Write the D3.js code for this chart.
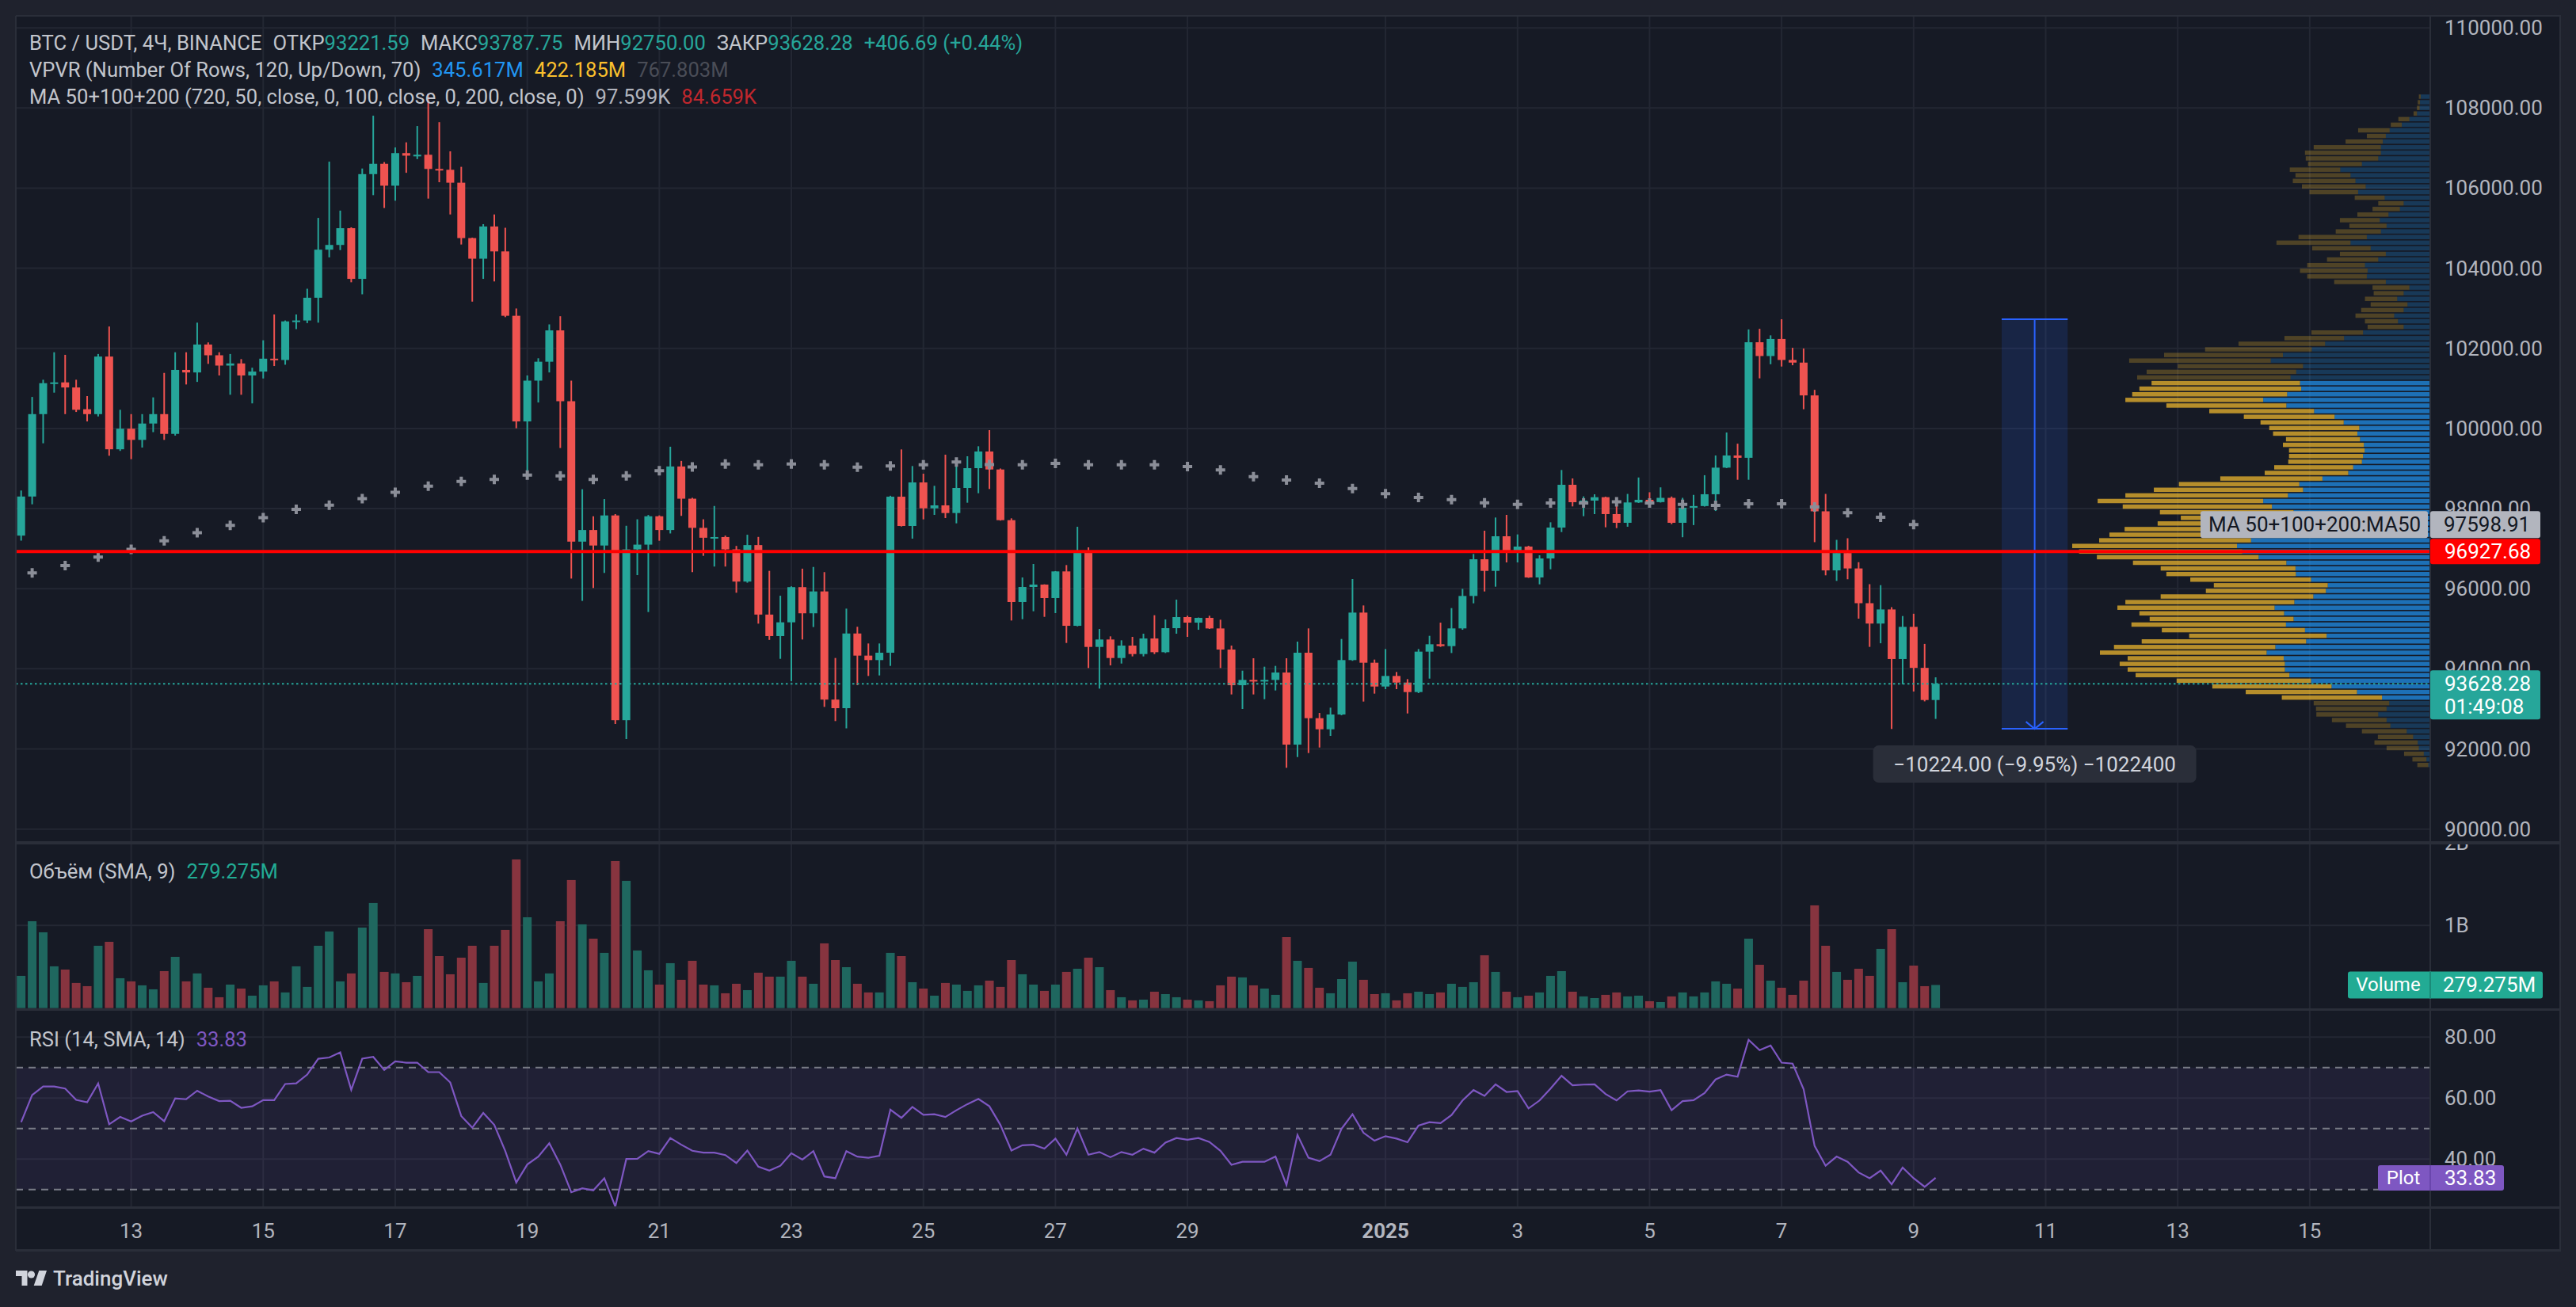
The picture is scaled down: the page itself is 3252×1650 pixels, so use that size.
<!DOCTYPE html>
<html>
<head>
<meta charset="utf-8">
<script src="https://cdn.jsdelivr.net/npm/d3@7"></script>
<style>
  html, body { margin: 0; padding: 0; background: #1f222d; }
  svg { display: block; font-family: Roboto, "Noto Sans", sans-serif; }
</style>
</head>
<body>
<svg id="chart" width="3252" height="1650"></svg>
<script>
// BTC/USDT 4h candles, first bar 11 Dec 2024 08:00 UTC
var startTime = Date.UTC(2024, 11, 11, 8);

var opens = [
  97325, 98301, 100358, 101130, 101150, 101023, 100480, 100358, 101795, 99480,
  99994, 99715, 100123, 100358, 99865, 101462, 101398, 102095, 101827, 101570,
  101623, 101323, 101420, 101742, 101709, 102673, 102695, 103263, 104463, 104581,
  104999, 103734, 106349, 106607, 106060, 106874, 106810, 106832, 106478, 106457,
  106135, 104752, 104238, 105042, 104420, 102813, 100176, 101194, 101666, 102448,
  100680, 97175, 97465, 97078, 97829, 92718, 96982, 97100, 97808, 97465,
  99051, 98247, 97519, 97272, 97290, 96982, 96178, 97089, 95354, 94818,
  95161, 96039, 95386, 95932, 93232, 93018, 94882, 94330, 94218, 94402,
  98297, 97566, 98653, 98007, 98080, 97889, 98515, 99009, 99425, 98976,
  97711, 95668, 96043, 96103, 95767, 96432, 95074, 96920, 94547, 94732,
  94270, 94580, 94369, 94758, 94415, 95015, 95292, 95153, 95272, 95008,
  94481, 93591, 93723, 93690, 93723, 93908, 92108, 94402, 92768, 92491,
  92860, 94218, 95404, 94152, 93558, 93822, 93657, 93420, 94429, 94613,
  94567, 95009, 95819, 96735, 96445, 97309, 96953, 97052, 96281, 96755,
  97526, 98594, 98159, 98200, 98284, 97863, 97645, 98153, 98219, 98162,
  98268, 97645, 98022, 98063, 98358, 99022, 99325, 99268, 102152, 101808,
  102234, 101710, 101644, 100825, 97932, 96457, 96891, 96506, 95638, 95130,
  95482, 94245, 95048, 94024, 93221.59
];
var highs = [
  98451, 100787, 101216, 101902, 101838, 101216, 100809, 101859, 102545, 100466,
  100358, 100358, 100776, 101387, 101902, 101902, 102641, 102148, 101902, 101859,
  101731, 101516, 102201, 102845, 102695, 102845, 103488, 105256, 106660, 105438,
  105020, 106489, 107807, 106649, 107014, 107142, 107550, 108353, 107646, 106917,
  106531, 104763, 105100, 105342, 105010, 102995, 101323, 101752, 102598, 102802,
  101194, 98483, 97808, 98236, 97861, 97572, 97733, 97840, 97830, 99544,
  99190, 98269, 97733, 98065, 97325, 97068, 97347, 97293, 96446, 95825,
  96060, 96500, 96543, 96414, 94271, 95503, 95050, 94633, 94633, 98320,
  99477, 99062, 98871, 98568, 99345, 99260, 99306, 99556, 99958, 99000,
  97757, 96281, 96617, 96110, 96440, 96590, 97546, 97032, 94995, 94811,
  94712, 94798, 94877, 95338, 95233, 95727, 95325, 95280, 95325, 95226,
  94580, 93954, 94264, 94053, 94073, 94264, 94679, 95009, 92899, 93031,
  94745, 96241, 95582, 94231, 94494, 93921, 93743, 94494, 94824, 95153,
  95516, 95997, 96867, 97447, 97777, 97843, 97355, 97071, 96834, 97658,
  98963, 98752, 98304, 98357, 98297, 98271, 98366, 98776, 98407, 98530,
  98301, 98268, 98342, 98833, 99325, 99899, 99620, 102472, 102488, 102324,
  102726, 102013, 101996, 100964, 98366, 97219, 97260, 96662, 96113, 96089,
  95539, 95318, 95375, 94622, 93787.75
];
var lows = [
  97200, 98107, 99630, 100894, 100358, 100412, 100176, 100300, 99319, 99440,
  99233, 99523, 99908, 99715, 99822, 101098, 101162, 101612, 101323, 100841,
  100841, 100626, 101248, 101559, 101591, 102480, 102630, 102641, 104270, 104452,
  103649, 103349, 105824, 105503, 105685, 106382, 106724, 105738, 106146, 105342,
  104592, 103166, 103734, 103670, 102780, 100005, 98804, 100648, 101398, 99512,
  96253, 95696, 96018, 96393, 92621, 92246, 96339, 95418, 97197, 97379,
  97818, 96414, 96821, 96553, 96553, 95900, 96150, 95128, 94722, 94250,
  93692, 94732, 95043, 93050, 92696, 92514, 93592, 93822, 93835, 94073,
  97553, 97250, 97731, 97843, 97764, 97632, 98146, 98383, 98489, 97700,
  95206, 95239, 95437, 95298, 95391, 94646, 95060, 94020, 93506, 94086,
  94132, 94310, 94310, 94369, 94395, 94877, 94798, 94975, 94995, 94020,
  93361, 92998, 93361, 93242, 93460, 91530, 91798, 91898, 92036, 92326,
  92840, 94200, 93183, 93381, 93493, 93493, 92886, 93394, 93756, 94547,
  94395, 94975, 95635, 95931, 96050, 96656, 96656, 96270, 96109, 96485,
  97414, 98054, 97810, 97863, 97533, 97513, 97547, 98140, 98039, 98150,
  97612, 97285, 97588, 98050, 97940, 99010, 98719, 98719, 101251, 101603,
  101546, 101578, 100480, 97162, 96334, 96195, 96236, 95253, 94548, 94638,
  92499, 93614, 93434, 93188, 92750
];
var closes = [
  98301, 100358, 101130, 101150, 101023, 100466, 100358, 101795, 99480, 99994,
  99715, 100123, 100358, 99865, 101462, 101398, 102095, 101827, 101570, 101623,
  101323, 101420, 101742, 101709, 102673, 102695, 103263, 104463, 104581, 104999,
  103734, 106349, 106607, 106060, 106874, 106810, 106832, 106478, 106457, 106135,
  104752, 104238, 105042, 104420, 102813, 100176, 101194, 101666, 102448, 100680,
  97175, 97465, 97078, 97829, 92718, 96982, 97100, 97808, 97465, 99051,
  98247, 97519, 97272, 97290, 96982, 96178, 97089, 95354, 94818, 95161,
  96039, 95386, 95932, 93232, 93018, 94882, 94330, 94218, 94402, 98297,
  97566, 98653, 98007, 98080, 97889, 98515, 99009, 99425, 98976, 97711,
  95668, 96043, 96103, 95767, 96432, 95074, 96920, 94547, 94732, 94270,
  94580, 94369, 94758, 94415, 95015, 95292, 95153, 95272, 95008, 94481,
  93591, 93723, 93690, 93723, 93908, 92108, 94402, 92768, 92491, 92860,
  94218, 95404, 94152, 93558, 93822, 93657, 93420, 94429, 94613, 94567,
  95009, 95819, 96735, 96445, 97309, 96953, 97052, 96281, 96755, 97526,
  98594, 98159, 98200, 98284, 97863, 97645, 98153, 98219, 98162, 98268,
  97645, 98022, 98063, 98358, 99022, 99325, 99268, 102152, 101808, 102234,
  101710, 101644, 100825, 97932, 96457, 96891, 96506, 95638, 95130, 95482,
  94245, 95048, 94024, 93221.59, 93628.28
];
// volume per bar, millions USDT
var volumes = [
  390, 1051, 917, 505, 466, 304, 265, 754, 802, 361,
  323, 275, 227, 447, 620, 323, 419, 246, 131, 284,
  236, 150, 275, 323, 189, 505, 256, 754, 927, 323,
  419, 974, 1272, 438, 419, 313, 390, 955, 629, 409,
  610, 754, 304, 754, 946, 1799, 1099, 323, 419, 1051,
  1550, 1013, 840, 668, 1780, 1540, 697, 457, 284, 543,
  342, 572, 284, 275, 179, 294, 217, 428, 380, 380,
  572, 380, 294, 783, 581, 495, 294, 189, 189, 668,
  629, 313, 236, 150, 304, 284, 208, 275, 332, 256,
  581, 409, 284, 208, 284, 438, 476, 610, 495, 217,
  131, 93, 102, 198, 169, 131, 102, 93, 83, 275,
  380, 371, 275, 236, 160, 859, 572, 486, 246, 179,
  351, 562, 342, 169, 179, 93, 179, 198, 169, 189,
  294, 256, 313, 639, 438, 198, 131, 150, 189, 390,
  447, 198, 141, 121, 160, 189, 141, 150, 83, 73,
  141, 189, 141, 189, 323, 294, 236, 840, 524, 332,
  246, 160, 332, 1243, 754, 438, 342, 476, 390, 716,
  955, 313, 514, 265, 279.275
];
var rsiValues = [
  52.1, 61.0, 63.8, 63.8, 63.1, 59.4, 58.6, 64.8, 51.4, 53.8,
  52.3, 54.2, 55.4, 52.4, 59.9, 59.6, 62.4, 60.5, 59.0, 59.1,
  56.8, 57.3, 59.3, 59.3, 64.6, 64.8, 67.7, 72.9, 73.3, 75.0,
  62.7, 72.9, 73.5, 69.2, 72.0, 71.6, 71.6, 68.5, 68.5, 65.1,
  54.1, 50.3, 55.1, 51.2, 42.6, 32.3, 38.2, 40.8, 45.2, 38.2,
  29.1, 30.4, 29.7, 33.7, 24.4, 40.0, 40.1, 42.6, 41.7, 46.9,
  44.7, 42.7, 42.1, 42.1, 41.3, 38.7, 42.8, 37.5, 36.2, 37.8,
  41.9, 39.8, 42.6, 34.3, 33.7, 42.6, 40.8, 40.4, 41.1, 56.2,
  53.5, 57.1, 54.5, 54.7, 53.8, 56.0, 58.0, 59.7, 57.3, 51.2,
  42.8, 44.5, 44.7, 43.4, 46.7, 41.4, 50.0, 41.4, 42.3, 40.6,
  42.3, 41.4, 43.4, 42.1, 45.4, 46.9, 46.3, 46.9, 45.6, 42.7,
  38.1, 39.1, 39.1, 39.1, 40.8, 31.5, 47.9, 40.4, 39.3, 41.4,
  49.9, 54.7, 48.6, 46.0, 47.5, 46.7, 45.5, 51.0, 52.1, 51.8,
  54.4, 59.2, 62.6, 60.7, 64.5, 62.0, 62.3, 56.6, 59.2, 63.1,
  67.3, 64.2, 64.4, 64.5, 61.3, 59.2, 62.2, 62.5, 62.1, 62.6,
  56.0, 59.0, 59.3, 61.6, 66.1, 67.7, 67.0, 79.1, 75.7, 77.2,
  71.6, 71.3, 62.9, 44.3, 37.8, 40.8, 39.1, 35.6, 33.7, 36.2,
  31.7, 37.2, 33.7, 30.9, 33.83
];
// MA50 on the 12h timeframe, one value every third 4h bar starting at bar 1
var maValues = [
  96393, 96575, 96790, 96982, 97197, 97400, 97583, 97776, 97979, 98086,
  98247, 98408, 98558, 98676, 98729, 98836, 98815, 98729, 98815, 98944,
  99040, 99115, 99094, 99115, 99094, 99035, 99062, 99095, 99161, 99100,
  99095, 99128, 99095, 99095, 99095, 99049, 98963, 98798, 98713, 98634,
  98502, 98370, 98278, 98222, 98142, 98105, 98138, 98138, 98167, 98137,
  98104, 98080, 98121, 98121, 98039, 97899, 97785, 97598.91
];
// visible range volume profile, 120 rows from the top price row down
var vpHigh = 108353, vpLow = 91530;
var vpUp = [
  25, 27, 28, 35, 55, 75, 107, 117, 125, 130,
  130, 137, 180, 237, 210, 197, 170, 190, 120, 70,
  80, 110, 133, 115, 130, 167, 210, 157, 117, 137,
  172, 165, 167, 117, 55, 70, 87, 60, 70, 95,
  85, 70, 177, 227, 277, 312, 388, 420, 335, 353,
  368, 343, 340, 377, 440, 379, 306, 252, 228, 187,
  192, 185, 175, 173, 177, 180, 203, 216, 284, 345,
  335, 375, 440, 417, 360, 405, 425, 445, 472, 472,
  509, 495, 452, 379, 355, 354, 314, 270, 275, 308,
  358, 410, 385, 360, 380, 330, 273, 327, 408, 431,
  386, 383, 383, 371, 314, 260, 193, 127, 108, 115,
  137, 115, 105, 62, 45, 33, 30, 17, 10, 5
];
var vpDown = [
  5, 6, 7, 9, 29, 29, 83, 50, 98, 177,
  200, 191, 142, 133, 145, 165, 168, 128, 79, 67,
  72, 82, 105, 98, 119, 180, 195, 154, 121, 135,
  152, 178, 157, 136, 97, 79, 85, 97, 112, 102,
  87, 95, 136, 157, 228, 281, 313, 373, 330, 394,
  404, 391, 426, 408, 363, 316, 276, 239, 219, 237,
  222, 195, 213, 199, 195, 194, 208, 220, 269, 317,
  393, 428, 436, 393, 352, 252, 293, 360, 373, 400,
  434, 430, 426, 404, 355, 341, 318, 300, 316, 402,
  445, 414, 381, 379, 407, 377, 362, 433, 425, 439,
  411, 435, 414, 405, 354, 314, 293, 264, 199, 186,
  163, 144, 117, 118, 93, 114, 85, 52, 37, 29
];
var valueArea = [51, 107];

var priceTicks = [110000, 108000, 106000, 104000, 102000, 100000, 98000, 96000, 94000, 92000, 90000];
var rsiTicks = [80, 60, 40];
var rsiLevels = [70, 50, 30];
var volTicks = [1000, 2000];
var volTickLabels = ['1B', '2B'];
var decDays = [13, 15, 17, 19, 21, 23, 25, 27, 29];
var janDays = [1, 3, 5, 7, 9, 11, 13, 15];

var hLinePrice = 96927.68;
var measureTimes = [Date.UTC(2025, 0, 10, 8), Date.UTC(2025, 0, 11, 8)];
var measurePrices = [102726, 92502];

var W = 3252, H = 1650,
    left = 20, plotRight = 3068, axisRight = 3231,
    mainTop = 20, mainBottom = 1062,
    volTop = 1066, volBottom = 1273,
    rsiTop = 1276, rsiBottom = 1523,
    timeBottom = 1579;

var colUp = '#26a69a', colDown = '#ef5350',
    gridCol = '#232733', sepCol = '#2a2e39',
    axisText = '#b2b5be', legendText = '#c2c5cc';

var hour = 3600 * 1000;
var n = closes.length;
var idx = d3.range(n);
var dates = idx.map(function(i){ return new Date(startTime + i * 4 * hour); });

var x = d3.scaleUtc()
    .domain([dates[0], dates[n - 1]])
    .range([26.7, 2443.6]);
var y = d3.scaleLinear().domain([90000, 110000]).range([1046.65, 35.15]);
var yVol = d3.scaleLinear().domain([0, 2000]).range([1272.6, 1064]);
var yRsi = d3.scaleLinear().domain([30, 70]).range([1501.7, 1347.7]);

var svg = d3.select('#chart');
var defs = svg.append('defs');
defs.append('clipPath').attr('id', 'clipMain').append('rect')
    .attr('x', left).attr('y', mainTop).attr('width', plotRight - left).attr('height', mainBottom - mainTop);
defs.append('clipPath').attr('id', 'clipVol').append('rect')
    .attr('x', left).attr('y', volTop).attr('width', axisRight - left).attr('height', volBottom - volTop);

svg.append('rect').attr('width', W).attr('height', H).attr('fill', '#1f222d');
svg.append('rect').attr('x', left).attr('y', mainTop)
    .attr('width', axisRight - left).attr('height', timeBottom - mainTop)
    .attr('fill', '#161a25');

var tickDates = decDays.map(function(d){ return new Date(Date.UTC(2024, 11, d)); })
    .concat(janDays.map(function(d){ return new Date(Date.UTC(2025, 0, d)); }));

function drawGrid(){
    var g = svg.append('g').attr('stroke', gridCol).attr('stroke-width', 2);
    g.selectAll('line.v').data(tickDates).enter().append('line')
        .attr('x1', function(d){ return x(d); }).attr('x2', function(d){ return x(d); })
        .attr('y1', mainTop).attr('y2', rsiBottom);
    g.selectAll('line.p').data(priceTicks).enter().append('line')
        .attr('x1', left).attr('x2', plotRight)
        .attr('y1', function(d){ return y(d); }).attr('y2', function(d){ return y(d); });
    g.selectAll('line.vol').data(volTicks).enter().append('line')
        .attr('x1', left).attr('x2', plotRight)
        .attr('y1', function(d){ return yVol(d); }).attr('y2', function(d){ return yVol(d); });
    g.selectAll('line.r').data(rsiTicks).enter().append('line')
        .attr('x1', left).attr('x2', plotRight)
        .attr('y1', function(d){ return yRsi(d); }).attr('y2', function(d){ return yRsi(d); });
}

function drawVolumeProfile(g){
    var rows = d3.range(vpUp.length),
        step = (vpHigh - vpLow) / vpUp.length,
        maxTotal = d3.max(rows, function(k){ return vpUp[k] + vpDown[k]; });
    var w = d3.scaleLinear().domain([0, maxTotal]).range([0, 452]);
    var rowsSel = g.selectAll('g.row').data(rows).enter().append('g');
    function inVA(k){ return k >= valueArea[0] && k <= valueArea[1]; }
    function top(k){ return y(vpHigh - k * step) + 0.8; }
    function hgt(k){ return y(vpHigh - (k + 1) * step) - y(vpHigh - k * step) - 1.6; }
    rowsSel.append('rect')
        .attr('x', function(k){ return plotRight - w(vpUp[k]); })
        .attr('y', top).attr('height', hgt)
        .attr('width', function(k){ return w(vpUp[k]); })
        .attr('fill', function(k){ return inVA(k) ? 'rgba(33,150,243,0.7)' : 'rgba(33,150,243,0.25)'; });
    rowsSel.append('rect')
        .attr('x', function(k){ return plotRight - w(vpUp[k]) - w(vpDown[k]); })
        .attr('y', top).attr('height', hgt)
        .attr('width', function(k){ return w(vpDown[k]); })
        .attr('fill', function(k){ return inVA(k) ? 'rgba(251,192,45,0.7)' : 'rgba(251,192,45,0.25)'; });
}

function drawMeasure(g){
    var x0 = x(new Date(measureTimes[0])), x1 = x(new Date(measureTimes[1])),
        y0 = y(measurePrices[0]), y1 = y(measurePrices[1]),
        cx = (x0 + x1) / 2;
    g.append('rect').attr('x', x0).attr('y', y0).attr('width', x1 - x0).attr('height', y1 - y0)
        .attr('fill', 'rgba(41,98,255,0.15)');
    var s = g.append('g').attr('stroke', '#2962ff').attr('stroke-width', 2).attr('fill', 'none');
    s.append('line').attr('x1', x0).attr('x2', x1).attr('y1', y0).attr('y2', y0);
    s.append('line').attr('x1', x0).attr('x2', x1).attr('y1', y1).attr('y2', y1);
    s.append('line').attr('x1', cx).attr('x2', cx).attr('y1', y0).attr('y2', y1);
    s.append('path').attr('d', 'M' + (cx - 11) + ',' + (y1 - 9) + 'L' + cx + ',' + y1 + 'L' + (cx + 11) + ',' + (y1 - 9));
}

function drawMeasureLabel(){
    var x0 = x(new Date(measureTimes[0])), x1 = x(new Date(measureTimes[1])),
        cx = (x0 + x1) / 2, yb = y(measurePrices[1]);
    var diff = measurePrices[1] - measurePrices[0],
        pct = diff / measurePrices[0] * 100,
        minus = '\u2212';
    var txt = minus + Math.abs(diff).toFixed(2) + ' (' + minus + Math.abs(pct).toFixed(2) + '%) ' + minus + Math.round(Math.abs(diff) * 100);
    svg.append('rect').attr('x', cx - 204).attr('y', yb + 21).attr('width', 408).attr('height', 47)
        .attr('rx', 7).attr('fill', '#2a2e39');
    svg.append('text').attr('x', cx).attr('y', yb + 45).attr('text-anchor', 'middle')
        .attr('dominant-baseline', 'central').attr('font-size', 26).attr('fill', '#d1d4dc').text(txt);
}

function drawCandles(g){
    var c = g.selectAll('g.candle').data(idx).enter().append('g')
        .attr('fill', function(i){ return closes[i] >= opens[i] ? colUp : colDown; })
        .attr('stroke', function(i){ return closes[i] >= opens[i] ? colUp : colDown; });
    c.append('line')
        .attr('x1', function(i){ return x(dates[i]); }).attr('x2', function(i){ return x(dates[i]); })
        .attr('y1', function(i){ return y(highs[i]); }).attr('y2', function(i){ return y(lows[i]); })
        .attr('stroke-width', 2);
    c.append('rect')
        .attr('stroke', 'none')
        .attr('x', function(i){ return x(dates[i]) - 5; }).attr('width', 10)
        .attr('y', function(i){ return y(Math.max(opens[i], closes[i])); })
        .attr('height', function(i){ return Math.max(2, Math.abs(y(opens[i]) - y(closes[i]))); });
}

function drawMA(g){
    var cross = d3.symbol().type(d3.symbolCross).size(80);
    g.selectAll('path.ma').data(maValues).enter().append('path')
        .attr('d', cross)
        .attr('fill', '#8b8e98')
        .attr('transform', function(d, k){
            return 'translate(' + x(new Date(startTime + (1 + 3 * k) * 4 * hour)) + ',' + y(d) + ')';
        });
}

function drawVolume(){
    var g = svg.append('g').attr('clip-path', 'url(#clipVol)');
    g.selectAll('rect').data(idx).enter().append('rect')
        .attr('x', function(i){ return x(dates[i]) - 5.5; }).attr('width', 11)
        .attr('y', function(i){ return yVol(volumes[i]); })
        .attr('height', function(i){ return yVol(0) - yVol(volumes[i]); })
        .attr('fill', function(i){ return closes[i] >= opens[i] ? '#1f675f' : '#87343f'; });
    g.selectAll('text').data(volTicks).enter().append('text')
        .attr('x', 3086).attr('y', function(d){ return yVol(d); })
        .attr('dominant-baseline', 'central').attr('font-size', 26).attr('fill', axisText)
        .text(function(d, k){ return volTickLabels[k]; });
}

function drawRSI(){
    svg.append('rect').attr('x', left).attr('width', plotRight - left)
        .attr('y', yRsi(70)).attr('height', yRsi(30) - yRsi(70))
        .attr('fill', 'rgba(126,87,194,0.1)');
    svg.selectAll('line.lvl').data(rsiLevels).enter().append('line')
        .attr('x1', left).attr('x2', plotRight)
        .attr('y1', function(d){ return yRsi(d); }).attr('y2', function(d){ return yRsi(d); })
        .attr('stroke', '#787b86').attr('stroke-width', 2).attr('stroke-dasharray', '9,7');
    var line = d3.line()
        .x(function(i){ return x(dates[i]); })
        .y(function(i){ return yRsi(rsiValues[i]); });
    svg.append('path').datum(idx).attr('d', line)
        .attr('fill', 'none').attr('stroke', '#7e57c2').attr('stroke-width', 2.2);
    svg.selectAll('text.rt').data(rsiTicks).enter().append('text')
        .attr('x', 3086).attr('y', function(d){ return yRsi(d); })
        .attr('dominant-baseline', 'central').attr('font-size', 26).attr('fill', axisText)
        .text(function(d){ return d.toFixed(2); });
}

function drawSeparators(){
    svg.append('rect').attr('x', left).attr('y', mainBottom).attr('width', axisRight - left).attr('height', 4).attr('fill', sepCol);
    svg.append('rect').attr('x', left).attr('y', volBottom).attr('width', axisRight - left).attr('height', 3).attr('fill', sepCol);
    svg.append('rect').attr('x', left).attr('y', rsiBottom).attr('width', axisRight - left).attr('height', 3).attr('fill', sepCol);
    svg.append('rect').attr('x', left).attr('y', timeBottom - 2).attr('width', axisRight - left + 2).attr('height', 3).attr('fill', sepCol);
    svg.append('rect').attr('x', left).attr('y', mainTop - 1).attr('width', axisRight - left + 2).attr('height', 2).attr('fill', sepCol);
    svg.append('rect').attr('x', left - 1).attr('y', mainTop).attr('width', 2).attr('height', timeBottom - mainTop).attr('fill', sepCol);
    svg.append('rect').attr('x', plotRight - 1).attr('y', mainTop).attr('width', 2).attr('height', timeBottom - mainTop).attr('fill', sepCol);
    svg.append('rect').attr('x', axisRight).attr('y', mainTop).attr('width', 2).attr('height', timeBottom - mainTop).attr('fill', sepCol);
}

function drawTimeAxis(){
    svg.selectAll('text.t').data(tickDates).enter().append('text')
        .attr('x', function(d){ return x(d); }).attr('y', 1554)
        .attr('text-anchor', 'middle').attr('dominant-baseline', 'central')
        .attr('font-size', 26).attr('fill', axisText)
        .attr('font-weight', function(d){ return d.getUTCDate() === 1 ? 'bold' : 'normal'; })
        .text(function(d){ return d.getUTCDate() === 1 ? d.getUTCFullYear() : d.getUTCDate(); });
}

function drawPriceAxis(){
    svg.selectAll('text.p').data(priceTicks).enter().append('text')
        .attr('x', 3086).attr('y', function(d){ return y(d); })
        .attr('dominant-baseline', 'central').attr('font-size', 26).attr('fill', axisText)
        .text(function(d){ return d.toFixed(2); });
}

function tag(x0, w, cy, h, fill, color, label, pad){
    svg.append('rect').attr('x', x0).attr('y', cy - h / 2).attr('width', w).attr('height', h)
        .attr('rx', 3).attr('fill', fill);
    svg.append('text').attr('x', x0 + pad).attr('y', cy).attr('dominant-baseline', 'central')
        .attr('font-size', 26).attr('fill', color).text(label);
}

function drawPriceTags(){
    var last = n - 1;
    var maLast = maValues[maValues.length - 1];
    tag(2778, 287, y(maLast), 34, '#b2b5be', '#131722', 'MA 50+100+200:MA50', 10);
    tag(plotRight, 139, y(maLast), 34, '#b2b5be', '#131722', maLast.toFixed(2), 17);
    tag(plotRight, 139, y(hLinePrice), 32, '#ff0000', '#ffffff', hLinePrice.toFixed(2), 18);
    var cy = y(closes[last]);
    svg.append('rect').attr('x', plotRight).attr('y', cy - 17).attr('width', 139).attr('height', 62)
        .attr('rx', 3).attr('fill', colUp);
    svg.append('text').attr('x', plotRight + 18).attr('y', cy).attr('dominant-baseline', 'central')
        .attr('font-size', 26).attr('fill', '#ffffff').text(closes[last].toFixed(2));
    svg.append('text').attr('x', plotRight + 18).attr('y', cy + 29).attr('dominant-baseline', 'central')
        .attr('font-size', 26).attr('fill', '#ffffff').text('01:49:08');

    var vy = yVol(volumes[last]);
    svg.append('rect').attr('x', 2964).attr('y', vy - 17).attr('width', 246).attr('height', 34)
        .attr('rx', 3).attr('fill', '#22ab94');
    svg.append('rect').attr('x', plotRight - 1).attr('y', vy - 17).attr('width', 2).attr('height', 34).attr('fill', '#1b8a78');
    svg.append('text').attr('x', 3015).attr('y', vy).attr('text-anchor', 'middle').attr('dominant-baseline', 'central')
        .attr('font-size', 24).attr('fill', '#ffffff').text('Volume');
    svg.append('text').attr('x', 3084).attr('y', vy).attr('dominant-baseline', 'central')
        .attr('font-size', 26).attr('fill', '#ffffff').text(volumes[last].toFixed(3) + 'M');

    var ry = yRsi(rsiValues[last]);
    svg.append('rect').attr('x', 3002).attr('y', ry - 16).attr('width', 159).attr('height', 32)
        .attr('rx', 3).attr('fill', '#7e57c2');
    svg.append('rect').attr('x', plotRight - 1).attr('y', ry - 16).attr('width', 2).attr('height', 32).attr('fill', '#6a46ad');
    svg.append('text').attr('x', 3034).attr('y', ry).attr('text-anchor', 'middle').attr('dominant-baseline', 'central')
        .attr('font-size', 24).attr('fill', '#ffffff').text('Plot');
    svg.append('text').attr('x', 3086).attr('y', ry).attr('dominant-baseline', 'central')
        .attr('font-size', 26).attr('fill', '#ffffff').text(rsiValues[last].toFixed(2));
}

function legendLine(yy, parts){
    var t = svg.append('text').attr('x', 37).attr('y', yy).attr('font-size', 25.6);
    parts.forEach(function(p){
        var s = t.append('tspan').attr('fill', p[1]).text(p[0]);
        if (p[2]) s.attr('dx', p[2]);
    });
}

function drawLegend(){
    var last = n - 1, teal = colUp;
    var chg = closes[last] - closes[last - 1],
        pct = chg / closes[last - 1] * 100;
    legendLine(63, [
        ['BTC / USDT, 4Ч, BINANCE', legendText],
        ['ОТКР', legendText, 14], [opens[last].toFixed(2), teal],
        ['МАКС', legendText, 14], [highs[last].toFixed(2), teal],
        ['МИН', legendText, 14], [lows[last].toFixed(2), teal],
        ['ЗАКР', legendText, 14], [closes[last].toFixed(2), teal],
        ['+' + chg.toFixed(2) + ' (+' + pct.toFixed(2) + '%)', teal, 14]
    ]);
    legendLine(97, [
        ['VPVR (Number Of Rows, 120, Up/Down, 70)', legendText],
        ['345.617M', '#2196f3', 14], ['422.185M', '#fbc02d', 14], ['767.803M', '#4a4d57', 14]
    ]);
    legendLine(131, [
        ['MA 50+100+200 (720, 50, close, 0, 100, close, 0, 200, close, 0)', legendText],
        [(maValues[maValues.length - 1] / 1000).toFixed(3) + 'K', axisText, 14], ['84.659K', '#c0272d', 14]
    ]);
    legendLine(1109, [['Объём (SMA, 9)', legendText], [volumes[last].toFixed(3) + 'M', '#22ab94', 14]]);
    legendLine(1321, [['RSI (14, SMA, 14)', legendText], [rsiValues[last].toFixed(2), '#7e57c2', 14]]);
}

function drawLogo(){
    var g = svg.append('g').attr('fill', '#d1d4dc');
    g.append('path').attr('d', 'M20,1604 h14.5 v19 h-7 v-12 h-7.5 z');
    g.append('circle').attr('cx', 39.5).attr('cy', 1609).attr('r', 4.6);
    g.append('path').attr('d', 'M42.7,1623 L49.3,1604 L59,1604 L52.7,1623 z');
    svg.append('text').attr('x', 67).attr('y', 1623).attr('font-size', 26).attr('font-weight', 500)
        .attr('fill', '#d1d4dc').text('TradingView');
}

drawGrid();
var main = svg.append('g').attr('clip-path', 'url(#clipMain)');
drawVolumeProfile(main.append('g'));
drawMeasure(main.append('g'));
drawCandles(main.append('g'));
drawMA(main.append('g'));
main.append('line').attr('x1', left).attr('x2', plotRight)
    .attr('y1', y(hLinePrice)).attr('y2', y(hLinePrice))
    .attr('stroke', '#ff0000').attr('stroke-width', 4);
main.append('line').attr('x1', left).attr('x2', plotRight)
    .attr('y1', y(closes[n - 1])).attr('y2', y(closes[n - 1]))
    .attr('stroke', colUp).attr('stroke-width', 2).attr('stroke-dasharray', '2.5,3.5');
drawMeasureLabel();
drawVolume();
drawRSI();
drawSeparators();
drawTimeAxis();
drawPriceAxis();
drawLegend();
drawPriceTags();
drawLogo();
</script>
</body>
</html>
